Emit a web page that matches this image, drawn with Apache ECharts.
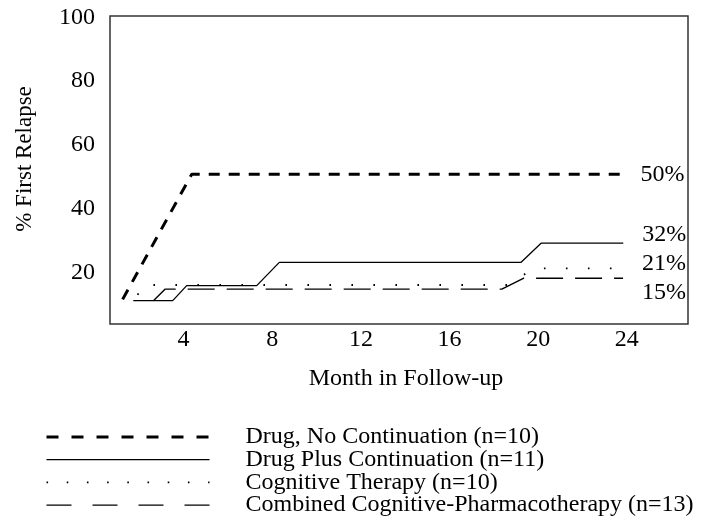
<!DOCTYPE html>
<html>
<head>
<meta charset="utf-8">
<script src="https://cdn.jsdelivr.net/npm/echarts@6/dist/echarts.min.js"></script>
<style>html,body{margin:0;padding:0;background:#fff}#c{width:705px;height:530px}</style>
</head>
<body>
<div id="c"></div>
<script>
// Data (month, % first relapse)
const seriesNames = [
  'Drug, No Continuation (n=10)',
  'Drug Plus Continuation (n=11)',
  'Cognitive Therapy (n=10)',
  'Combined Cognitive-Pharmacotherapy (n=13)'
];
const drugNoCont = [[1.25, 11.7], [4.37, 50.9], [23.76, 50.9]];
const drugPlusCont = [[1.73, 11.3], [3.51, 11.3], [4.14, 16.0], [7.30, 16.0], [8.32, 23.3], [19.23, 23.3], [20.13, 29.3], [23.84, 29.3]];
const cognitive = [[1.93, 13.1], [2.14, 16.2], [18.73, 16.2], [19.74, 21.4], [23.83, 21.4]];
const combined = [[2.64, 11.3], [3.16, 14.9], [18.36, 14.9], [19.33, 18.3], [23.83, 18.3]];
const endLabels = ['50%', '32%', '21%', '15%'];
const xTicks = [4, 8, 12, 16, 20, 24];
const yTicks = [20, 40, 60, 80, 100];

const FONT = 'Liberation Serif';
const chart = echarts.init(document.getElementById('c'), null, {renderer: 'canvas'});

const styles = [
  {width: 3, type: [11, 9]},
  {width: 1.3, type: 'solid'},
  {width: 1.8, type: [1.6, 20.4]},
  {width: 1.4, type: [27, 12]}
];
const legendStyles = [
  {width: 3, type: [12, 13]},
  {width: 1.3, type: 'solid'},
  {width: 1.6, type: [1.6, 18.6]},
  {width: 1.4, type: [25, 21]}
];
const labelOffsets = [[0, 1], [0, -8], [0, -5], [0, 14]];
const datasets = [drugNoCont, drugPlusCont, cognitive, combined];

chart.setOption({
  animation: false,
  backgroundColor: '#fff',
  grid: {left: 110, top: 16, right: 17, bottom: 206, show: true, borderColor: '#333', borderWidth: 1.5, backgroundColor: 'transparent'},
  xAxis: {
    type: 'value', min: 0.68, max: 26.76,
    name: 'Month in Follow-up', nameLocation: 'middle', nameGap: 43,
    nameTextStyle: {fontFamily: FONT, fontSize: 24, color: '#000', padding: [0, 0, 0, 14]},
    axisLine: {show: false}, axisTick: {show: false}, splitLine: {show: false},
    axisLabel: {customValues: xTicks, fontFamily: FONT, fontSize: 24, color: '#000', margin: 4}
  },
  yAxis: {
    type: 'value', min: 4, max: 100.4,
    name: '% First Relapse', nameLocation: 'middle', nameGap: 74, nameRotate: 90,
    nameTextStyle: {fontFamily: FONT, fontSize: 23, color: '#000', padding: [0, 0, 0, 22]},
    axisLine: {show: false}, axisTick: {show: false}, splitLine: {show: false},
    axisLabel: {customValues: yTicks, fontFamily: FONT, fontSize: 24, color: '#000', margin: 15, padding: [6, 0, 0, 0]}
  },
  legend: {
    orient: 'vertical', left: 45, top: 425, height: 120, padding: 0,
    itemWidth: 163, itemHeight: 14, itemGap: -1.3,
    textStyle: {fontFamily: FONT, fontSize: 24, color: '#000', lineHeight: 23, padding: [0, 0, 0, 31]},
    data: seriesNames.map((n, i) => ({
      name: n,
      itemStyle: {color: 'rgba(0,0,0,0)', borderWidth: 0, opacity: 0},
      lineStyle: Object.assign({color: '#000', opacity: 1}, legendStyles[i])
    })),
    selectedMode: false
  },
  series: datasets.map((d, i) => ({
    name: seriesNames[i], type: 'line', data: d, symbol: 'none',
    lineStyle: Object.assign({color: '#000', cap: 'butt'}, styles[i]),
    itemStyle: {color: '#000'},
    endLabel: {show: true, formatter: endLabels[i], fontFamily: FONT, fontSize: 24, color: '#000', distance: 19, offset: labelOffsets[i]}
  }))
});
</script>
</body>
</html>
